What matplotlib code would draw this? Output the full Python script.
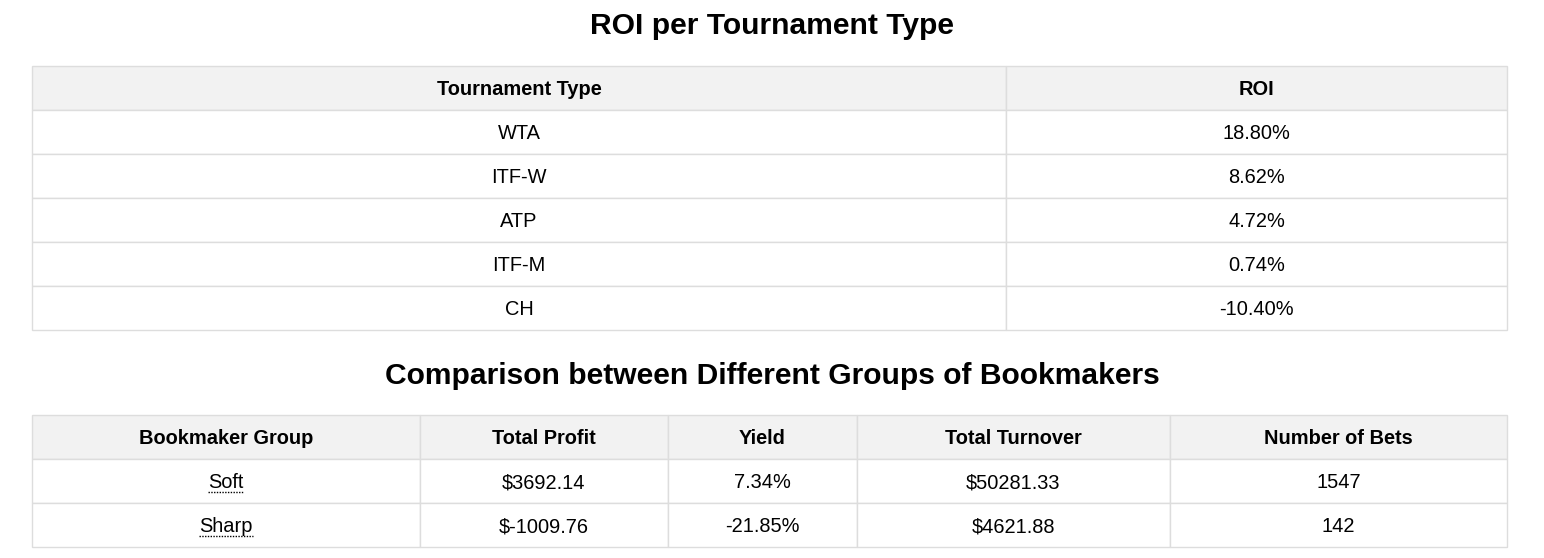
import matplotlib
matplotlib.use("Agg")
import matplotlib.pyplot as plt
from matplotlib.patches import Rectangle

plt.rcParams['font.family'] = ['Liberation Sans', 'DejaVu Sans']

# ---- data ----
title1 = "ROI per Tournament Type"
headers1 = ["Tournament Type", "ROI"]
tournament_types = ["WTA", "ITF-W", "ATP", "ITF-M", "CH"]
roi_values = ["18.80%", "8.62%", "4.72%", "0.74%", "-10.40%"]

title2 = "Comparison between Different Groups of Bookmakers"
headers2 = ["Bookmaker Group", "Total Profit", "Yield", "Total Turnover", "Number of Bets"]
bookmaker_groups = ["Soft", "Sharp"]
total_profit = ["$3692.14", "$-1009.76"]
yield_values = ["7.34%", "-21.85%"]
total_turnover = ["$50281.33", "$4621.88"]
number_of_bets = ["1547", "142"]

# ---- layout (pixels) ----
W, H = 1544, 558
fig = plt.figure(figsize=(W / 100, H / 100), dpi=100)
ax = fig.add_axes([0, 0, 1, 1])
ax.set_xlim(0, W)
ax.set_ylim(H, 0)
ax.axis('off')

PX = 72 / 100  # px -> pt
BORDER = '#dddddd'
HEAD_BG = '#f2f2f2'
ROW_H = 44
BODY_PX = 20
TITLE_PX = 30
BASE_OFF = 29   # baseline offset from the top of a row
UL_OFF = 33     # dotted underline offset from the top of a row


def draw_table(col_edges, top, headers, rows, underline_first=False):
    n = len(rows) + 1
    for r in range(n):
        y0 = top + r * ROW_H
        for c in range(len(col_edges) - 1):
            x0, x1 = col_edges[c], col_edges[c + 1]
            ax.add_patch(Rectangle((x0, y0), x1 - x0, ROW_H,
                                   facecolor=HEAD_BG if r == 0 else 'white',
                                   edgecolor=BORDER, linewidth=1.0))
            xc = (x0 + x1) / 2
            yb = y0 + BASE_OFF
            if r == 0:
                ax.text(xc, yb, headers[c], ha='center', va='baseline',
                        fontsize=BODY_PX * PX, fontweight='bold', color='black')
            else:
                t = ax.text(xc, yb, rows[r - 1][c], ha='center', va='baseline',
                            fontsize=BODY_PX * PX, color='black')
                if underline_first and c == 0:
                    fig.canvas.draw()
                    bb = t.get_window_extent()
                    inv = ax.transData.inverted()
                    (xa, _), (xb, _) = inv.transform([(bb.x0, bb.y0), (bb.x1, bb.y0)])
                    ax.plot([xa, xb], [y0 + UL_OFF, y0 + UL_OFF], color='black',
                            linestyle=(0, (1, 1)), linewidth=1.0)


# title 1
ax.text(W / 2, 34, title1, ha='center', va='baseline', fontsize=TITLE_PX * PX,
        fontweight='bold', color='black')
rows1 = list(zip(tournament_types, roi_values))
draw_table([32, 1006, 1507], 66, headers1, rows1)

# title 2
ax.text(W / 2, 384, title2, ha='center', va='baseline', fontsize=TITLE_PX * PX,
        fontweight='bold', color='black')
rows2 = list(zip(bookmaker_groups, total_profit, yield_values, total_turnover, number_of_bets))
draw_table([32, 420, 668, 857, 1170, 1507], 415, headers2, rows2, underline_first=True)

fig.savefig("out.png", dpi=100, facecolor='white')
